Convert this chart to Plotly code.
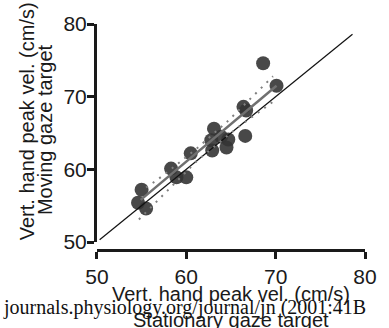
import plotly.graph_objects as go

# Vertical hand peak velocity (cm/s): stationary vs moving gaze target
stationary = [54.6, 55.0, 55.5, 58.3, 58.9, 60.0, 60.5, 62.8, 62.9, 63.1,
              63.9, 64.5, 64.7, 66.4, 66.6, 66.7, 68.6, 70.1]
moving = [55.4, 57.2, 54.6, 60.1, 58.9, 58.9, 62.2, 64.0, 62.6, 65.6,
          64.5, 63.0, 64.1, 68.6, 64.6, 68.1, 74.6, 71.5]

# Regression fit and its confidence band
fit_x = [54.9, 70.1]
fit_y = [55.8, 71.5]
band_hi_x = [55.5, 56.7, 59.4, 61.2, 64.7, 67.2, 69.7]
band_hi_y = [57.5, 58.5, 61.1, 62.9, 66.7, 69.7, 72.8]
band_lo_x = [54.7, 56.4, 57.2, 58.0, 61.3, 65.9, 69.7]
band_lo_y = [53.1, 55.2, 56.2, 57.2, 61.3, 65.9, 69.3]

# Line of identity
unity = [50.3, 78.6]

ticks = [50, 60, 70, 80]

W, H = 389, 328
L, R, T, B = 95, 13, 24, 78
PW, PH = W - L - R, H - T - B


def px(x):
    return (x - L) / PW


def py(y):
    return (H - B - y) / PH


FONT = "Liberation Sans, Arial, Helvetica, sans-serif"

fig = go.Figure()
fig.add_trace(go.Scatter(
    x=stationary, y=moving, mode="markers",
    marker=dict(size=14, color="rgba(52,52,52,0.9)", line=dict(width=0)),
))
fig.add_trace(go.Scatter(x=unity, y=unity, mode="lines",
                         line=dict(color="#111", width=1.2)))
for bx, by in ((band_hi_x, band_hi_y), (band_lo_x, band_lo_y)):
    fig.add_trace(go.Scatter(x=bx, y=by, mode="lines",
                             line=dict(color="#808080", width=2, dash="2px,6px")))
fig.add_trace(go.Scatter(x=fit_x, y=fit_y, mode="lines",
                         line=dict(color="#707070", width=2.5)))

axis_common = dict(
    showgrid=False, zeroline=False, showline=True, linecolor="#1a1a1a",
    linewidth=3, ticks="outside", ticklen=7, tickwidth=2.5, tickcolor="#1a1a1a",
    tickvals=ticks, ticktext=[str(t) for t in ticks],
    tickfont=dict(family=FONT, size=21, color="#1a1a1a"),
    anchor="free", position=0,
)

fig.update_layout(
    width=W, height=H, margin=dict(l=L, r=R, t=T, b=B),
    paper_bgcolor="white", plot_bgcolor="white", showlegend=False,
    xaxis=dict(range=[50, 80], domain=[px(97), 1], **axis_common),
    yaxis=dict(range=[50, 80], domain=[py(242), 1], ticklabelstandoff=-4,
               **axis_common),
)

ann = dict(xref="paper", yref="paper", showarrow=False,
           font=dict(family=FONT, size=20, color="#1a1a1a"))
fig.add_annotation(text="Vert. hand peak vel. (cm/s)", x=px(237), y=py(294),
                   xanchor="center", yanchor="middle", **ann)
fig.add_annotation(text="Stationary gaze target", x=px(237), y=py(320),
                   xanchor="center", yanchor="middle", **ann)
fig.add_annotation(text="Vert. hand peak vel. (cm/s)", x=px(25), y=py(121.5),
                   textangle=-90, xanchor="center", yanchor="middle", **ann)
fig.add_annotation(text="Moving gaze target", x=px(43), y=py(130),
                   textangle=-90, xanchor="center", yanchor="middle", **ann)
fig.add_annotation(text="journals.physiology.org/journal/jn (2001:41B",
                   x=px(-3), y=py(307), xanchor="left", yanchor="middle",
                   xref="paper", yref="paper", showarrow=False,
                   font=dict(family="Liberation Serif, Times New Roman, serif",
                             size=20, color="#111"))

fig.write_html("out.html")
